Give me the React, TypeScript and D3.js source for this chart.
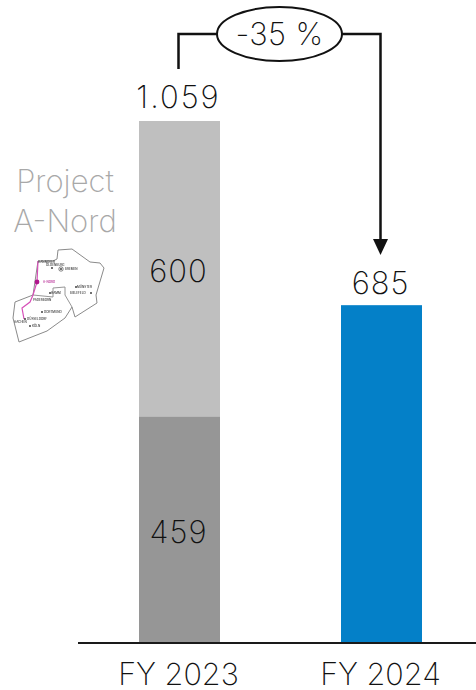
import React from "react";
import * as d3 from "d3";

const categories = ["FY 2023", "FY 2024"];
const lowerValues = [459, 685];
const upperValues = [600, 0];
const totalLabels = ["1.059", "685"];
const changeLabel = "-35 %";
const annotationLines = ["Project", "A-Nord"];
const FONT = "'Inter', 'Noto Sans', sans-serif";

const mapOutline: [number, number][] = [[38,261],[53,261],[57,259],[58,250],[72,249],[90,262],[100,263],[104,268],[96,295],[97,303],[75,317],[72,307],[65,318],[47,331],[19,342],[13,318],[15,302],[33,295]];
const mapInner: [number, number][] = [[33,295],[53,297],[53,288],[65,287],[65,295],[72,307]];
const mapRoute: [number, number][] = [[38,261],[37,282],[33,295],[30,302],[22,308],[24,319]];
const mapLabels: [number, number, string][] = [[38,263,"HANNOVER"],[46,266,"OLDENBURG"],[65,270,"BREMEN"],[77,288,"MÜNSTER"],[70,294,"BIELEFELD"],[51,294,"HAMM"],[33,301,"PADERBORN"],[44,313,"DORTMUND"],[27,320,"DÜSSELDORF"],[14,323,"AACHEN"],[32,327,"KÖLN"]];
const mapBullets: [number, number][] = [[52,268],[61,269],[76,287],[91,293],[50,293],[42,312],[25,319],[30,326]];

const W = 476, H = 690;
const baseline = 642.5;
const y = d3.scaleLinear().domain([0, 1059]).range([baseline, 121]);
const line = d3.line();
const FS = 31;

export default function App() {
  const bw = 81;
  const xs = [139, 341];
  const cx = xs.map((v) => v + bw / 2);
  const num = { textAnchor: "middle" as const, fontSize: FS, fill: "#111", letterSpacing: 1 };
  return (
    <svg width={W} height={H} style={{ position: "absolute", left: 0, top: 0 }} fontFamily={FONT} fontWeight={200}>
      <defs>
        <filter id="soft" x="-5%" y="-5%" width="110%" height="110%">
          <feGaussianBlur stdDeviation="0.35" />
        </filter>
      </defs>
      <rect x={xs[0]} y={y(upperValues[0] + lowerValues[0])} width={bw} height={y(lowerValues[0]) - y(upperValues[0] + lowerValues[0])} fill="#bfbfbf" />
      <rect x={xs[0]} y={y(lowerValues[0])} width={bw} height={baseline - y(lowerValues[0])} fill="#969696" />
      <rect x={xs[1]} y={y(lowerValues[1])} width={bw} height={baseline - y(lowerValues[1])} fill="#0480c8" />
      <line x1={78} x2={476} y1={643} y2={643} stroke="#1a1a1a" strokeWidth={2} />
      {categories.map((c, i) => (
        <text key={c} x={cx[i] - 1} y={685} textAnchor="middle" fontSize={FS - 0.5} fill="#111">{c}</text>
      ))}
      <text x={cx[0] - 1} y={108} {...num} letterSpacing={2}>{totalLabels[0]}</text>
      <text x={cx[1] - 1} y={294} {...num}>{totalLabels[1]}</text>
      <text x={cx[0] - 1} y={282} {...num}>{upperValues[0]}</text>
      <text x={cx[0] - 1} y={543} {...num}>{lowerValues[0]}</text>
      {annotationLines.map((t, i) => (
        <text key={t} x={65} y={192 + i * 40} textAnchor="middle" fontSize={FS} fill="#a8a8a8">{t}</text>
      ))}
      <g filter="url(#soft)">
        <path d={line(mapOutline)! + "Z"} fill="#fff" stroke="#8a8a8a" strokeWidth={1} />
        <path d={line(mapInner)!} fill="none" stroke="#8a8a8a" strokeWidth={0.9} />
        <path d={line(mapRoute)!} fill="none" stroke="#d64fb8" strokeWidth={1.2} />
        <circle cx={37} cy={282} r={2.4} fill="#b0188c" />
        {mapBullets.map(([mx, my]) => (
          <rect key={`${mx}-${my}`} x={mx - 0.8} y={my - 0.8} width={1.6} height={1.6} fill="#222" />
        ))}
        <circle cx={61} cy={269} r={2.2} fill="none" stroke="#333" strokeWidth={0.6} />
        {mapLabels.map(([mx, my, t]) => (
          <text key={t} x={mx} y={my} fontSize={3} fill="#333" fontWeight={500}>{t}</text>
        ))}
        <text x={43} y={283} fontSize={3} fill="#b0188c" fontWeight={500}>A-NORD</text>
      </g>
      <path d="M178.500 69V34H217" fill="none" stroke="#111" strokeWidth={2.5} />
      <path d="M342 34H380.500V240" fill="none" stroke="#111" strokeWidth={2.5} />
      <path d="M373 239H388L380.500 255Z" fill="#111" />
      <ellipse cx={279.500} cy={34} rx={62.500} ry={27} fill="#fff" stroke="#111" strokeWidth={2} />
      <text x={279.500} y={45} textAnchor="middle" fontSize={FS} fill="#111" letterSpacing={0.4}>{changeLabel}</text>
    </svg>
  );
}
